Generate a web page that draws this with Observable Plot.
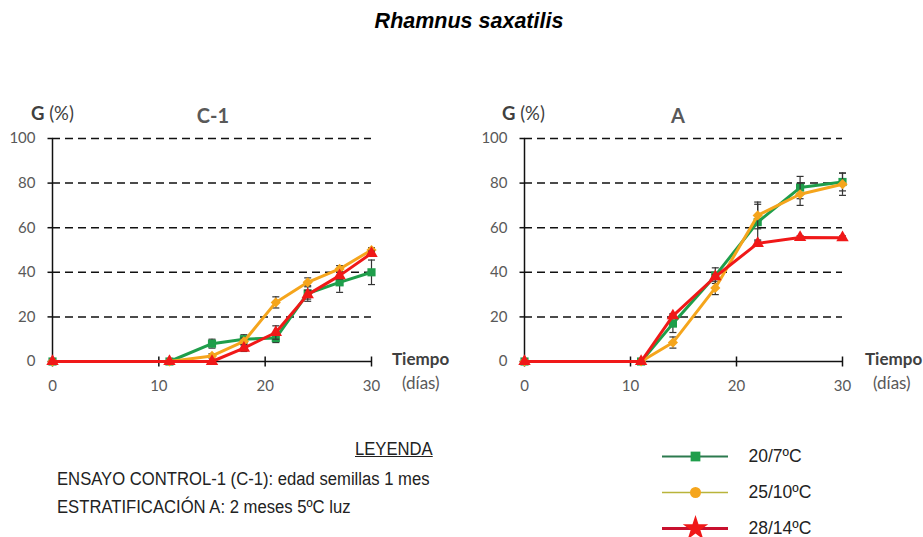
<!DOCTYPE html>
<html>
<head>
<meta charset="utf-8">
<script src="https://cdn.jsdelivr.net/npm/d3@7"></script>
<script src="https://cdn.jsdelivr.net/npm/@observablehq/plot@0.6"></script>
<style>
  html, body { margin: 0; padding: 0; background: #fff; }
  #wrap { position: relative; width: 923px; height: 537px; overflow: hidden; background: #fff; }
  .abs { position: absolute; white-space: nowrap; line-height: 1; }
  .c { transform: translate(-50%, -50%); }
  .l { transform: translateY(-50%); }
  .n { transform: translateY(-50%) scaleX(0.925); transform-origin: left center; }
  .lato { font-family: Lato, "Open Sans", sans-serif; }
  .narrow { font-family: "Liberation Sans", Arial, sans-serif; color: #222; }
</style>
</head>
<body>
<div id="wrap"></div>
<script>
// ---- data ----
const seriesNames = ["20/7ºC", "25/10ºC", "28/14ºC"];
const seriesColors = ["#1f9e4b", "#f5a51c", "#f01818"];
const seriesSymbols = ["square", "diamond2", "triangle"];

const yTicks = [0, 20, 40, 60, 80, 100];
const xTicks = [0, 10, 20, 30];

// C-1 panel
const daysC1 = [0, 11, 15, 18, 21, 24, 27, 30];
const c1_207  = [0, 0, 8, 10, 10.5, 30.5, 35.5, 40];
const c1_2510 = [0, 0, 2.5, 9, 26.5, 35.5, 41.5, 50];
const c1_2814 = [0, 0, 0, 6, 13, 30, 38.5, 48.5];
const c1_207_err  = [0, 0, 2, 2, 2, 3.5, 4.5, 5.5];
const c1_2510_err = [0, 0, 1, 1.5, 2.5, 2, 1.5, 1];
const c1_2814_err = [0, 0, 0, 1.5, 3, 2, 1.5, 1];

// A panel
const daysA = [0, 11, 14, 18, 22, 26, 30];
const a_207  = [0, 0, 17, 38.5, 62.5, 78, 80.5];
const a_2510 = [0, 0, 8.5, 33, 65.5, 75, 79.5];
const a_2814 = [0, 0, 20.5, 38, 53, 55.6, 55.5];
const a_207_err  = [0, 0, 4, 3.5, 8, 5, 4];
const a_2510_err = [0, 0, 2.5, 3, 6, 5, 5];
const a_2814_err = [0, 0, 1, 1, 1, 0.8, 0.8];

// ---- helpers ----
const hTick = {draw(ctx) { ctx.moveTo(-5, 0); ctx.lineTo(0, 0); }};
const vTick = {draw(ctx) { ctx.moveTo(0, -5); ctx.lineTo(0, 5); }};
const cap = {draw(ctx) { ctx.moveTo(-3.5, 0); ctx.lineTo(3.5, 0); }};

function panel(days, vals, errs, width, ml, mr) {
  const marks = [
    Plot.ruleY(yTicks.filter(d => d > 0), {stroke: "#111", strokeWidth: 1.5, strokeDasharray: "8,5"}),
    Plot.ruleY([0], {stroke: "#111", strokeWidth: 1.5}),
    Plot.ruleX([0], {y1: 0, y2: 100, stroke: "#111", strokeWidth: 1.5}),
    Plot.dot(yTicks, {x: 0, y: d => d, symbol: hTick, stroke: "#111", fill: "none", strokeWidth: 1.5}),
    Plot.dot(xTicks, {x: d => d, y: 0, symbol: vTick, stroke: "#111", fill: "none", strokeWidth: 1.5}),
    Plot.text(yTicks, {x: 0, y: d => d, text: d => String(d), dx: -17, textAnchor: "end", fill: "#595959", fontSize: 15}),
    Plot.text(xTicks, {x: d => d, y: 0, text: d => String(d), dy: 25, fill: "#595959", fontSize: 15})
  ];
  seriesNames.forEach((s, i) => {
    const rows = days.map((d, j) => ({s, day: d, g: vals[i][j], e: errs[i][j]}));
    const er = rows.filter(r => r.e > 0);
    marks.push(
      Plot.ruleX(er, {x: "day", y1: r => r.g - r.e, y2: r => r.g + r.e, stroke: "#333", strokeWidth: 1.2}),
      Plot.dot(er, {x: "day", y: r => r.g - r.e, symbol: cap, stroke: "#333", fill: "none", strokeWidth: 1.2}),
      Plot.dot(er, {x: "day", y: r => r.g + r.e, symbol: cap, stroke: "#333", fill: "none", strokeWidth: 1.2}),
      Plot.line(rows, {x: "day", y: "g", stroke: "s", strokeWidth: 3}),
      Plot.dot(rows, {x: "day", y: "g", fill: "s", symbol: "s", r: 4.6, stroke: "none"})
    );
  });
  return Plot.plot({
    width, height: 400,
    marginLeft: ml, marginRight: mr, marginTop: 138, marginBottom: 39,
    x: {domain: [0, 30], axis: null},
    y: {domain: [0, 100], axis: null},
    color: {domain: seriesNames, range: seriesColors},
    symbol: {domain: seriesNames, range: seriesSymbols},
    style: {background: "transparent", fontFamily: "Lato, sans-serif", overflow: "visible"},
    marks
  });
}

const wrap = document.getElementById("wrap");
function place(el, left, top) {
  el.style.position = "absolute"; el.style.left = left + "px"; el.style.top = top + "px";
  wrap.appendChild(el);
}

place(panel(daysC1, [c1_207, c1_2510, c1_2814], [c1_207_err, c1_2510_err, c1_2814_err], 460, 52, 89), 0, 0);
place(panel(daysA, [a_207, a_2510, a_2814], [a_207_err, a_2510_err, a_2814_err], 463, 64, 81), 460, 0);

// legend (series)
const legendLine = ["#2c7a4f", "#b9b43a", "#c8102e"];
const legendSym = ["square", "circle", "star"];
const legend = Plot.plot({
  width: 200, height: 97,
  marginLeft: 12, marginRight: 122, marginTop: 0, marginBottom: 0,
  x: {domain: [0, 1], axis: null},
  y: {type: "point", domain: seriesNames, range: [16, 88], padding: 0, axis: null},
  r: {type: "identity"},
  style: {background: "transparent", overflow: "visible"},
  marks: [
    Plot.ruleY(seriesNames, {y: d => d, stroke: (d, i) => legendLine[i], strokeWidth: (d, i) => [1.8, 1.6, 3.2][i]}),
    Plot.dot(seriesNames, {y: d => d, frameAnchor: "middle", symbol: (d, i) => legendSym[i], fill: (d, i) => seriesColors[i], r: (d, i) => [5.5, 5.5, 8][i]}),
    Plot.text(seriesNames, {y: d => d, text: d => d, frameAnchor: "right", textAnchor: "start", dx: 20, fontSize: 17.5, fill: "#222", fontFamily: "Liberation Sans, Arial, sans-serif"})
  ]
});
place(legend, 650, 440);

// texts
function txt(html, left, top, cls, style) {
  const d = document.createElement("div");
  d.className = "abs " + cls;
  d.innerHTML = html;
  d.style.left = left + "px"; d.style.top = top + "px";
  Object.assign(d.style, style || {});
  wrap.appendChild(d);
}
txt("Rhamnus saxatilis", 469, 22, "c", {fontFamily: "Liberation Sans, Arial, sans-serif", fontWeight: "bold", fontStyle: "italic", fontSize: "21.5px", color: "#000"});

txt('<b>G</b> (%)', 31, 113, "l lato", {fontSize: "18.5px", color: "#404040"});
txt('C-1', 213, 115, "c lato", {fontSize: "20px", fontWeight: "bold", color: "#595959"});
txt('Tiempo', 392, 358, "l lato", {fontSize: "17px", fontWeight: "bold", color: "#404040"});
txt('(días)', 402, 382, "l lato", {fontSize: "17px", color: "#595959"});

txt('<b>G</b> (%)', 502, 113, "l lato", {fontSize: "18.5px", color: "#404040"});
txt('A', 678, 115, "c lato", {fontSize: "20px", fontWeight: "bold", color: "#595959"});
txt('Tiempo', 865, 358, "l lato", {fontSize: "17px", fontWeight: "bold", color: "#404040"});
txt('(días)', 873, 382, "l lato", {fontSize: "17px", color: "#595959"});

txt('<u>LEYENDA</u>', 355, 449, "n narrow", {fontSize: "18px"});
txt('ENSAYO CONTROL-1 (C-1): edad semillas 1 mes', 57, 479, "n narrow", {fontSize: "18px"});
txt('ESTRATIFICACIÓN A: 2 meses 5ºC luz', 57, 507, "n narrow", {fontSize: "18px"});
</script>
</body>
</html>
